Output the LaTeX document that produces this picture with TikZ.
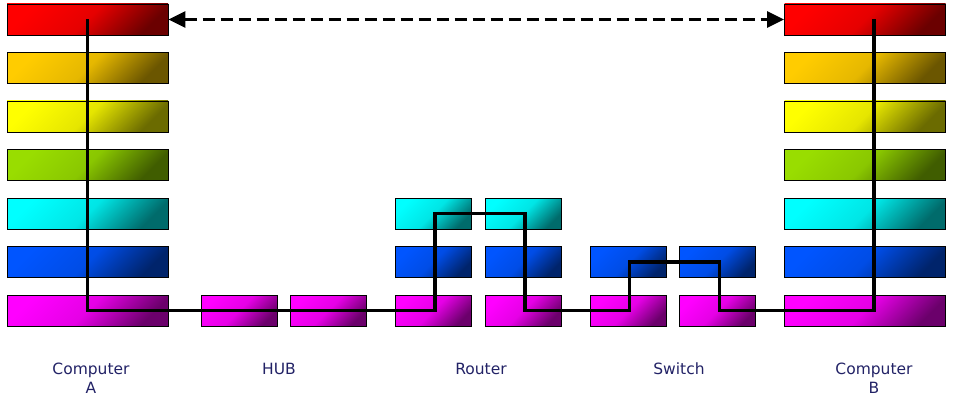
\documentclass[tikz,border=0pt]{standalone}
\usepackage{fontspec}
\setmainfont{DejaVu Sans}
\usepackage{tikz}
\usetikzlibrary{arrows.meta}
\definecolor{osired}{RGB}{255, 0, 0}
\definecolor{osiamber}{RGB}{255, 204, 0}
\definecolor{osiyellow}{RGB}{255, 255, 0}
\definecolor{osilime}{RGB}{153, 221, 0}
\definecolor{osicyan}{RGB}{0, 255, 255}
\definecolor{osiblue}{RGB}{0, 85, 255}
\definecolor{osimagenta}{RGB}{255, 0, 255}
\definecolor{labelnavy}{RGB}{34, 34, 102}

\begin{document}
\begin{tikzpicture}[x=1pt, y=-1pt,
  layer/.style={
    draw=black, line width=0.8pt, inner sep=0pt, minimum height=31pt,
    top color=#1, bottom color=#1!42!black, middle color=#1!90!black,
    shading angle=45
  },
  wide/.style={layer=#1, minimum width=161pt},
  narrow/.style={layer=#1, minimum width=76pt},
  link/.style={line width=3.4pt, color=black},
  peer/.style={line width=3pt, dash pattern=on 12pt off 6pt,
               {Triangle[length=17pt,width=16pt]}-{Triangle[length=17pt,width=16pt]}},
  caption/.style={font=\fontsize{15.5}{19.5}\selectfont, text=labelnavy,
                  align=center, anchor=base, inner sep=0pt}
]
  \useasboundingbox (0,0) rectangle (955,401);

  % --- Computer A ---
  \node[wide=osired]     (a1) at (87.5, 19.5)  {};
  \node[wide=osiamber]   (a2) at (87.5, 68)    {};
  \node[wide=osiyellow]  (a3) at (87.5, 116.5) {};
  \node[wide=osilime]    (a4) at (87.5, 165)   {};
  \node[wide=osicyan]    (a5) at (87.5, 213.5) {};
  \node[wide=osiblue]    (a6) at (87.5, 262)   {};
  \node[wide=osimagenta] (a7) at (87.5, 310.5) {};

  % --- HUB ---
  \node[narrow=osimagenta] (hl7) at (239, 310.5) {};
  \node[narrow=osimagenta] (hr7) at (328, 310.5) {};

  % --- Router ---
  \node[narrow=osicyan]    (rl5) at (433, 213.5) {};
  \node[narrow=osiblue]    (rl6) at (433, 262)   {};
  \node[narrow=osimagenta] (rl7) at (433, 310.5) {};
  \node[narrow=osicyan]    (rr5) at (523, 213.5) {};
  \node[narrow=osiblue]    (rr6) at (523, 262)   {};
  \node[narrow=osimagenta] (rr7) at (523, 310.5) {};

  % --- Switch ---
  \node[narrow=osiblue]    (sl6) at (628.5, 262)   {};
  \node[narrow=osimagenta] (sl7) at (628.5, 310.5) {};
  \node[narrow=osiblue]    (sr6) at (717.5, 262)   {};
  \node[narrow=osimagenta] (sr7) at (717.5, 310.5) {};

  % --- Computer B ---
  \node[wide=osired]     (b1) at (865, 19.5)  {};
  \node[wide=osiamber]   (b2) at (865, 68)    {};
  \node[wide=osiyellow]  (b3) at (865, 116.5) {};
  \node[wide=osilime]    (b4) at (865, 165)   {};
  \node[wide=osicyan]    (b5) at (865, 213.5) {};
  \node[wide=osiblue]    (b6) at (865, 262)   {};
  \node[wide=osimagenta] (b7) at (865, 310.5) {};

  % --- Data path ---
  \draw[link] (a1.center) -- (a7.center) -- ([xshift=2pt]rl7.center)
    -- ([xshift=2pt]rl5.center) -- ([xshift=2pt]rr5.center)
    -- ([xshift=2pt]rr7.center) -- ([xshift=1pt]sl7.center)
    -- ([xshift=1pt]sl6.center) -- ([xshift=2pt]sr6.center)
    -- ([xshift=2pt]sr7.center) -- ([xshift=9pt]b7.center)
    -- ([xshift=9pt]b1.center);

  % peer-to-peer (virtual) link
  \draw[peer] (a1.east) -- (b1.west);

  % --- Captions ---
  \node[caption] (capA) at (91, 393.5)  {Computer\\A};
  \node[caption] (capH) at (279, 374)   {HUB};
  \node[caption] (capR) at (481, 374)   {Router};
  \node[caption] (capS) at (679, 374)   {Switch};
  \node[caption] (capB) at (874, 393.5) {Computer\\B};

\end{tikzpicture}
\end{document}
